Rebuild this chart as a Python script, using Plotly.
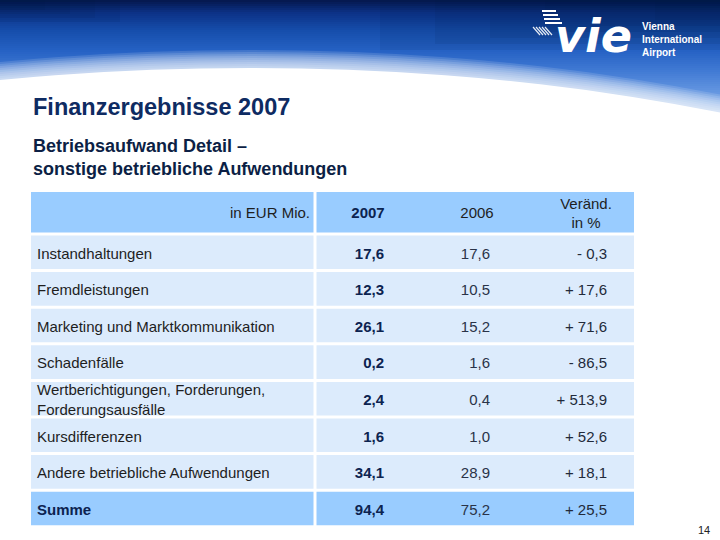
import plotly.graph_objects as go

# ---------------- data ----------------
categories = [
    "Instandhaltungen",
    "Fremdleistungen",
    "Marketing und Marktkommunikation",
    "Schadenfälle",
    "Wertberichtigungen, Forderungen,<br>Forderungsausfälle",
    "Kursdifferenzen",
    "Andere betriebliche Aufwendungen",
    "Summe",
]
values_2007 = [17.6, 12.3, 26.1, 0.2, 2.4, 1.6, 34.1, 94.4]
values_2006 = [17.6, 10.5, 15.2, 1.6, 0.4, 1.0, 28.9, 75.2]
change_pct = [-0.3, 17.6, 71.6, -86.5, 513.9, 52.6, 18.1, 25.5]
header_labels = ["in EUR Mio.", "<b>2007</b>", "2006", "Veränd.<br>in %"]

title = "Finanzergebnisse 2007"
subtitle = "Betriebsaufwand Detail –<br>sonstige betriebliche Aufwendungen"
page_no = "14"

# ---------------- styles / layout ----------------
W, H = 720, 540
FONT = "Liberation Sans, Arial, sans-serif"
HEADER_FILL = "#99ccff"
BODY_FILL = "#dcebfc"
NAVY = "#0c2350"
TEXT = "#1e1e1e"

tbl_left, tbl_div, tbl_right = 31, 315, 634
tbl_top, head_h, row_h, gap = 192, 42, 36.6, 3.0
col_x = [37, 384, 490, 607]          # text anchors
head_x = [310, 368, 477, 586]
text_dy = 2.5


def de(v):
    return f"{v:.1f}".replace(".", ",")


def de_change(v):
    return ("- " if v < 0 else "+ ") + de(abs(v))


def lerp(c1, c2, t):
    return tuple(int(round(a + (b - a) * t)) for a, b in zip(c1, c2))


shapes = []

# sky gradient bands
stops = [(0, (5, 25, 80)), (12, (12, 50, 135)), (30, (22, 78, 172)),
         (50, (38, 98, 196)), (70, (65, 122, 212)), (100, (115, 162, 230)),
         (130, (160, 195, 242))]
y = 0
step = 2
while y < 130:
    for (y0, c0), (y1, c1) in zip(stops[:-1], stops[1:]):
        if y0 <= y < y1:
            col = lerp(c0, c1, (y - y0) / (y1 - y0))
            break
    shapes.append(dict(type="rect", xref="x", yref="y", x0=0, x1=W, y0=y, y1=y + step + 0.5,
                       fillcolor=f"rgb{col}", line_width=0, layer="below"))
    y += step

# darker top-right corner overlay
for i in range(6):
    shapes.append(dict(type="rect", xref="x", yref="y", x0=380 + i * 55, x1=W, y0=0, y1=50 - i * 6,
                       fillcolor="rgba(5,20,70,0.08)", line_width=0, layer="below"))
# darker top-left corner
for i in range(4):
    shapes.append(dict(type="rect", xref="x", yref="y", x0=0, x1=120 - i * 25, y0=0, y1=22 - i * 4,
                       fillcolor="rgba(5,20,70,0.08)", line_width=0, layer="below"))

# white horizon (soft edged ellipse)
cx, cy, rx, ry = 250, 448, 1000, 380
for k in range(9):
    off = -18 + k * 2
    shapes.append(dict(type="circle", xref="x", yref="y",
                       x0=cx - rx, x1=cx + rx, y0=cy - ry + off, y1=cy + ry + off,
                       fillcolor="rgba(255,255,255,0.13)", line_width=0, layer="below"))
shapes.append(dict(type="circle", xref="x", yref="y",
                   x0=cx - rx, x1=cx + rx, y0=cy - ry, y1=cy + ry,
                   fillcolor="white", line_width=0, layer="below"))
shapes.append(dict(type="rect", xref="x", yref="y", x0=0, x1=W, y0=128, y1=H,
                   fillcolor="white", line_width=0, layer="below"))

# table cells
n = len(categories)
row_bounds = [tbl_top + head_h + i * row_h for i in range(n + 1)]
for x0, x1 in [(tbl_left, tbl_div - 1.5), (tbl_div + 1.5, tbl_right)]:
    shapes.append(dict(type="rect", xref="x", yref="y", x0=x0, x1=x1,
                       y0=tbl_top, y1=tbl_top + head_h - gap / 2,
                       fillcolor=HEADER_FILL, line_width=0, layer="below"))
row_centers = []
for i in range(n):
    y0 = row_bounds[i] + gap / 2
    y1 = row_bounds[i + 1] - gap / 2
    row_centers.append((row_bounds[i] + row_bounds[i + 1]) / 2 + text_dy)
    fill = HEADER_FILL if i == n - 1 else BODY_FILL
    for x0, x1 in [(tbl_left, tbl_div - 1.5), (tbl_div + 1.5, tbl_right)]:
        shapes.append(dict(type="rect", xref="x", yref="y", x0=x0, x1=x1, y0=y0, y1=y1,
                           fillcolor=fill, line_width=0, layer="below"))

# logo stripes
for k in range(4):
    shapes.append(dict(type="line", xref="x", yref="y", x0=542 + k * 1, x1=556 + k * 2,
                       y0=11 + k * 4, y1=11 + k * 4, line=dict(color="white", width=2),
                       layer="above"))
for k in range(5):
    shapes.append(dict(type="line", xref="x", yref="y", x0=533 + k * 3, x1=540 + k * 3,
                       y0=27, y1=35, line=dict(color="rgba(255,255,255,0.9)", width=1.2),
                       layer="above"))

fig = go.Figure()

head_center = tbl_top + head_h / 2 - 0.5 + 2
label_text = [f"<b>{c}</b>" if i == n - 1 else c for i, c in enumerate(categories)]
label_color = [NAVY if i == n - 1 else TEXT for i in range(n)]

fig.add_trace(go.Scatter(x=[col_x[0]] * n, y=row_centers, mode="text", text=label_text,
                         textposition="middle right",
                         textfont=dict(family=FONT, size=15, color=label_color),
                         hoverinfo="skip", showlegend=False))
fig.add_trace(go.Scatter(x=[col_x[1]] * n, y=row_centers, mode="text",
                         text=[f"<b>{de(v)}</b>" for v in values_2007],
                         textposition="middle left",
                         textfont=dict(family=FONT, size=15, color=NAVY),
                         hoverinfo="skip", showlegend=False))
fig.add_trace(go.Scatter(x=[col_x[2]] * n, y=row_centers, mode="text",
                         text=[de(v) for v in values_2006],
                         textposition="middle left",
                         textfont=dict(family=FONT, size=15, color="#2a3348"),
                         hoverinfo="skip", showlegend=False))
fig.add_trace(go.Scatter(x=[col_x[3]] * n, y=row_centers, mode="text",
                         text=[de_change(v) for v in change_pct],
                         textposition="middle left",
                         textfont=dict(family=FONT, size=15, color="#222a3a"),
                         hoverinfo="skip", showlegend=False))
fig.add_trace(go.Scatter(x=[head_x[0]], y=[head_center], mode="text", text=[header_labels[0]],
                         textposition="middle left",
                         textfont=dict(family=FONT, size=15, color=TEXT),
                         hoverinfo="skip", showlegend=False))
fig.add_trace(go.Scatter(x=head_x[1:], y=[head_center] * 3, mode="text", text=header_labels[1:],
                         textposition="middle center",
                         textfont=dict(family=FONT, size=15, color=[NAVY, TEXT, TEXT]),
                         hoverinfo="skip", showlegend=False))

annotations = [
    dict(x=31, y=107, xref="x", yref="y", text=f"<b>{title}</b>", showarrow=False,
         xanchor="left", yanchor="middle", font=dict(family=FONT, size=23.5, color="#0e2b62")),
    dict(x=31, y=134, xref="x", yref="y", text=f"<b>{subtitle}</b>", showarrow=False,
         xanchor="left", yanchor="top", align="left",
         font=dict(family=FONT, size=18, color="#0c1f45")),
    dict(x=712, y=530, xref="x", yref="y", text=page_no, showarrow=False,
         xanchor="right", yanchor="middle", font=dict(family=FONT, size=11, color="#222")),
    dict(x=553, y=36, xref="x", yref="y", text="<b><i>vie</i></b>", showarrow=False,
         xanchor="left", yanchor="middle",
         font=dict(family="DejaVu Sans, sans-serif", size=46, color="white")),
    dict(x=640, y=39, xref="x", yref="y", text="<b>Vienna<br>International<br>Airport</b>",
         showarrow=False, xanchor="left", yanchor="middle", align="left",
         font=dict(family=FONT, size=10, color="white")),
]

fig.update_layout(
    width=W, height=H, margin=dict(l=0, r=0, t=0, b=0),
    paper_bgcolor="white", plot_bgcolor="white",
    xaxis=dict(range=[0, W], visible=False, fixedrange=True),
    yaxis=dict(range=[H, 0], visible=False, fixedrange=True),
    shapes=shapes, annotations=annotations, showlegend=False,
)

fig.write_html("out.html", config={"displayModeBar": False},
               post_script="document.body.style.margin='0';document.body.style.overflow='hidden';")
